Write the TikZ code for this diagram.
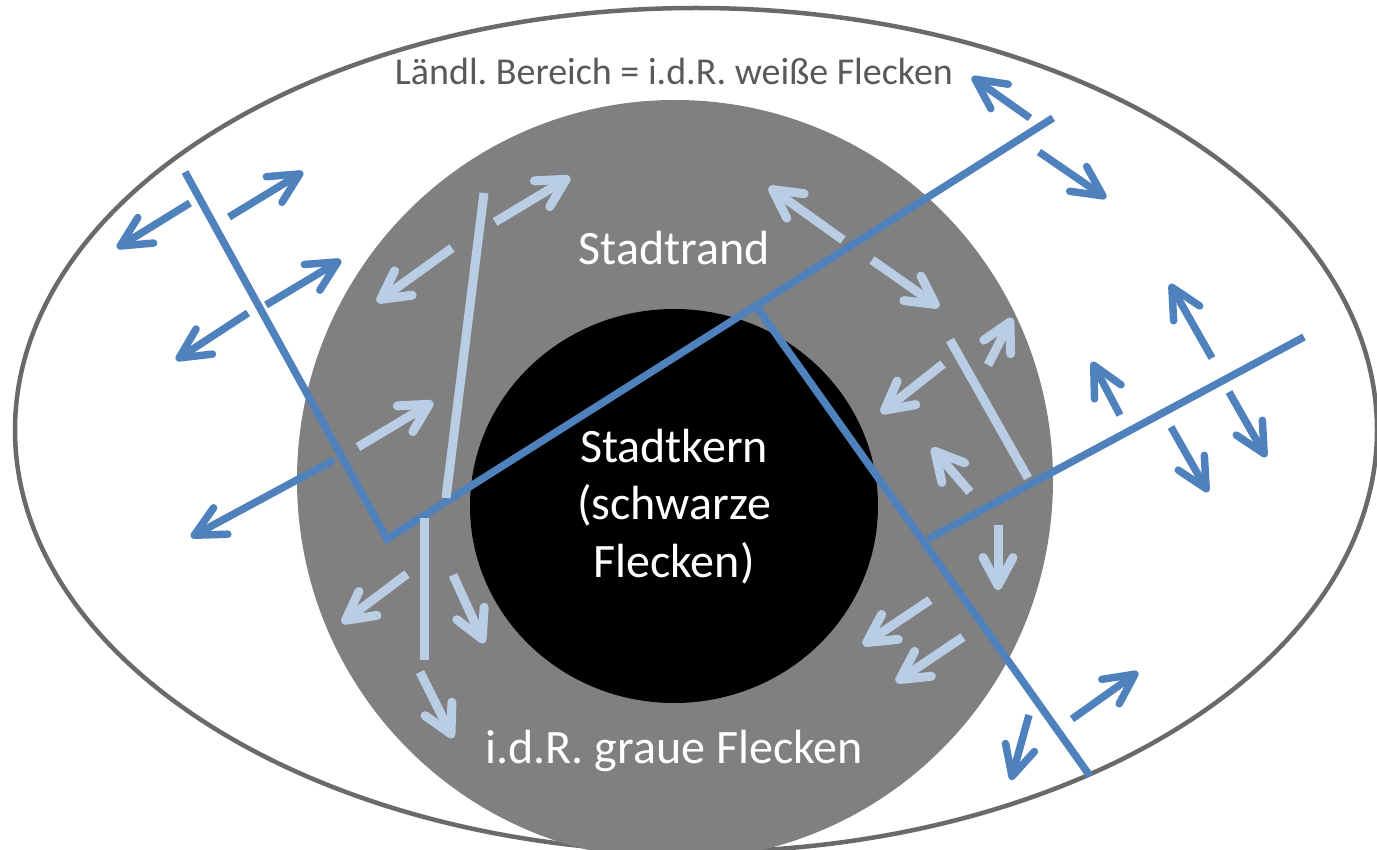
\documentclass[tikz,border=0pt]{standalone}
\usepackage{fontspec}
\setmainfont{Carlito}
\usetikzlibrary{arrows.meta}
\frenchspacing

\definecolor{ruralline}{HTML}{6A6A6A}
\definecolor{fringe}{HTML}{808080}
\definecolor{darkblue}{HTML}{4F81BD}
\definecolor{lightblue}{HTML}{B9CDE5}
\definecolor{labelgray}{HTML}{595959}

\begin{document}
\begin{tikzpicture}[x=1pt, y=-1pt,
  outerline/.style={draw=darkblue, line width=7.5pt},
  innerline/.style={draw=lightblue, line width=9pt},
  outerarrow/.style={outerline, -{Straight Barb[length=30pt, width=30pt, round]}},
  innerarrow/.style={innerline, -{Straight Barb[length=28pt, width=30pt, round]}},
  ringlabel/.style={text=white, font=\fontsize{48}{57.5}\selectfont, align=center, anchor=base, inner sep=0pt},
  rurallabel/.style={text=labelgray, font=\fontsize{38}{46}\selectfont, anchor=base, inner sep=0pt}]
\useasboundingbox (0,0) rectangle (1377,850);
\clip (0,0) rectangle (1377,850);

% zones: rural area, urban fringe, city core
\draw[ruralline, line width=4.5pt] (696,430) ellipse [x radius=681, y radius=422];
\fill[fringe] (675,480) ellipse [x radius=378, y radius=380];
\fill[black] (674,506) ellipse [x radius=204, y radius=197];

% boundary lines of the rural area
\draw[outerline] (185,172) -- (387,539) -- (1053,118);
\draw[outerline] (756,306) -- (1090,776);
\draw[outerline] (1304,337) -- (928,539);

% boundary lines inside the urban fringe
\draw[innerline] (484,193) -- (446,498);
\draw[innerline] (424,518) -- (424,660);
\draw[innerline] (950,340) -- (1028,478);

% movements in the rural area
\draw[outerarrow] (190,203) -- (117,248);
\draw[outerarrow] (229,217) -- (303,172);
\draw[outerarrow] (248,313) -- (176,360);
\draw[outerarrow] (266,305) -- (341,260);
\draw[outerarrow] (334,460) -- (191,537);
\draw[outerarrow] (1030,118) -- (972,77);
\draw[outerarrow] (1039,152) -- (1106,198);
\draw[outerarrow] (1212,358) -- (1170,284);
\draw[outerarrow] (1120,415) -- (1092,362);
\draw[outerarrow] (1171,427) -- (1208,492);
\draw[outerarrow] (1229,392) -- (1266,457);
\draw[outerarrow] (1072,719) -- (1138,672);
\draw[outerarrow] (1029,715) -- (1011,780);

% movements in the urban fringe
\draw[innerarrow] (495,222) -- (570,177);
\draw[innerarrow] (452,248) -- (377,302);
\draw[innerarrow] (358,447) -- (433,402);
\draw[innerarrow] (407,574) -- (342,623);
\draw[innerarrow] (453,575) -- (484,643);
\draw[innerarrow] (420,672) -- (453,738);
\draw[innerarrow] (843,240) -- (769,187);
\draw[innerarrow] (872,260) -- (939,307);
\draw[innerarrow] (988,365) -- (1012,318);
\draw[innerarrow] (943,364) -- (881,413);
\draw[innerarrow] (970,492) -- (932,448);
\draw[innerarrow] (998,525) -- (998,590);
\draw[innerarrow] (930,600) -- (863,645);
\draw[innerarrow] (963,637) -- (896,682);

% labels
\node[rurallabel] (rural) at (674,85) {Ländl. Bereich = i.d.R. weiße Flecken};
\node[ringlabel] (fringelabel) at (674,265) {Stadtrand};
\node[ringlabel] (core) at (674,577) {Stadtkern\\(schwarze\\Flecken)};
\node[ringlabel] (grey) at (674,763) {i.d.R. graue Flecken};
\end{tikzpicture}
\end{document}
